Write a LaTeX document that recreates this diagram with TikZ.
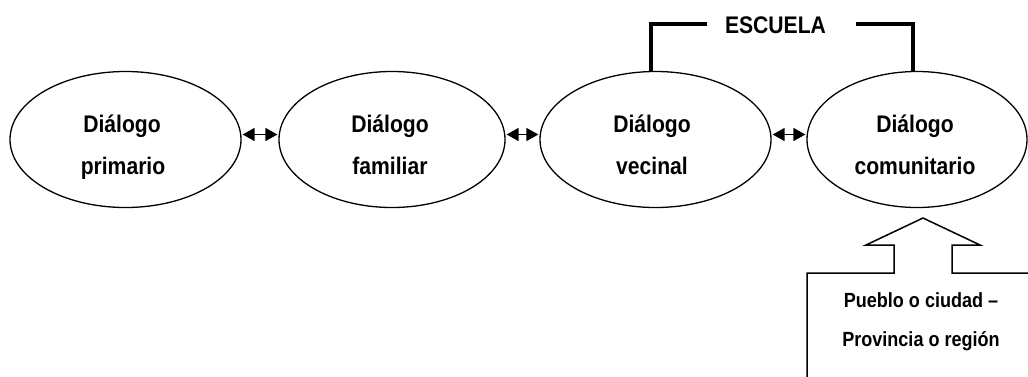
\documentclass[tikz,border=0pt]{standalone}
\usepackage{fontspec}
\setmainfont[FakeStretch=0.88]{Liberation Sans}
\usetikzlibrary{shapes.geometric,arrows.meta,calc}
\tikzset{
  oval/.style={ellipse, draw, line width=1.3pt, inner sep=0pt},
  lbl/.style={font=\fontsize{24}{28}\selectfont\bfseries, anchor=base, inner sep=0pt},
  boxlbl/.style={font=\fontsize{20.5}{24}\selectfont\bfseries, anchor=base, inner sep=0pt},
  dbl/.style={line width=1.5pt, arrows={Triangle[length=12pt,width=13pt]-Triangle[length=12pt,width=13pt]}},
  bracket/.style={line width=3.8pt},
  thin/.style={line width=1.5pt, line join=miter}
}
\begin{document}
\begin{tikzpicture}[x=1pt,y=-1pt]
\useasboundingbox (0,0) rectangle (1028,376);
% ellipses
\node[oval, minimum width=231pt, minimum height=136pt] (e1) at (125.5,139.5) {};
\node[oval, minimum width=226pt, minimum height=136pt] (e2) at (392,139.5) {};
\node[oval, minimum width=231pt, minimum height=136pt] (e3) at (655.5,139.5) {};
\node[oval, minimum width=220pt, minimum height=136pt] (e4) at (917,139.5) {};
% labels
\node[lbl] (t1a) at (122,132) {Diálogo};
\node[lbl] (t1b) at (123,174) {primario};
\node[lbl] (t2a) at (390,132) {Diálogo};
\node[lbl] (t2b) at (390,174) {familiar};
\node[lbl] (t3a) at (652,132) {Diálogo};
\node[lbl] (t3b) at (652,174) {vecinal};
\node[lbl] (t4a) at (915,132) {Diálogo};
\node[lbl] (t4b) at (915,174) {comunitario};
% double arrows
\draw[dbl] ($(e1.east)+(1,-5)$) -- ($(e2.west)+(-1,-5)$);
\draw[dbl] ($(e2.east)+(1,-5)$) -- ($(e3.west)+(-1,-5)$);
\draw[dbl] ($(e3.east)+(1,-5)$) -- ($(e4.west)+(-1,-5)$);
% ESCUELA bracket
\node[lbl] (esc) at (775.5,33) {ESCUELA};
\coordinate (bl) at (651,72);
\coordinate (br) at (913,72);
\draw[bracket] (bl) -- (651,24) -- (707,24);
\draw[bracket] (856,24) -- (913,24) -- (br);
% up arrow and box
\coordinate (tip) at (923,218);
\draw[thin] (1035,273) -- (952,273) -- (952,245) -- (980,245) -- (tip)
  -- (866,245) -- (894,245) -- (894,273) -- (807,273) -- (807,380);
\node[boxlbl] (p1) at (921,307) {Pueblo o ciudad –};
\node[boxlbl] (p2) at (921,346) {Provincia o región};
\end{tikzpicture}
\end{document}
